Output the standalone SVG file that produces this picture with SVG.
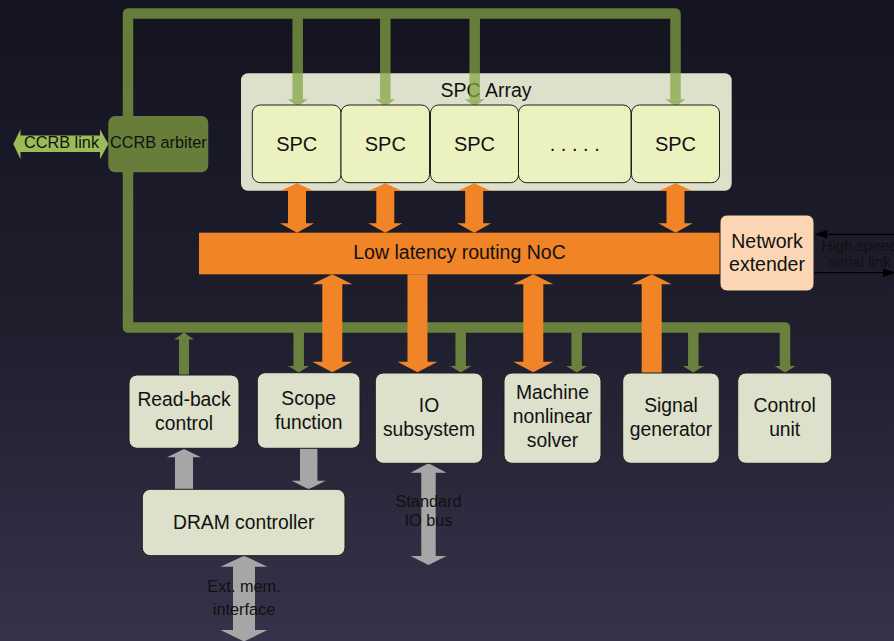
<svg xmlns="http://www.w3.org/2000/svg" width="894" height="641" viewBox="0 0 894 641">
  <defs>
    <linearGradient id="bg" x1="0" y1="0" x2="0" y2="1">
      <stop offset="0" stop-color="#141320"/>
      <stop offset="0.5" stop-color="#1f1e2d"/>
      <stop offset="1" stop-color="#34334a"/>
    </linearGradient>
    <!-- orange arrows: SPC <-> NoC -->
    <path id="oSpc" d="M0,183.3 L17,191 L9,191 L9,223.3 L17,223.3 L0,232.7 L-17,223.3 L-9,223.3 L-9,191 L-17,191Z"/>
    <!-- orange arrows: NoC <-> peripherals -->
    <path id="oBoth" d="M0,274.3 L20,284.3 L10,284.3 L10,361.7 L20,361.7 L0,372.3 L-20,361.7 L-10,361.7 L-10,284.3 L-20,284.3Z"/>
    <path id="oDown" d="M-10,274.3 L10,274.3 L10,361.7 L20,361.7 L0,372.3 L-20,361.7 L-10,361.7Z"/>
    <path id="oUp" d="M0,274.3 L20,284.3 L10,284.3 L10,373 L-10,373 L-10,284.3 L-20,284.3Z"/>
    <!-- green bus heads -->
    <path id="gTopHead" d="M-10,99.3 L10,99.3 L0,106.5Z"/>
    <path id="gBotHead" d="M-10.5,366 L10.5,366 L0,372.5Z"/>
  </defs>
  <style>
    .t { font-family: "Liberation Sans", Arial, sans-serif; fill: #111; text-anchor: middle; }
    .box { fill: #dde0ca; stroke: #1e1e1e; stroke-width: 1; }
    .spc { fill: #ecf2bf; stroke: #1e1e1e; stroke-width: 1; }
    .orange { fill: #f08426; }
    .grey { fill: #a6a6a6; }
    .bus { fill: none; stroke: #85a544; stroke-width: 10.5; stroke-linejoin: round; }
    .gfill { fill: #85a544; }
    .thin { stroke: #000; stroke-width: 1.3; fill: none; }
  </style>

  <rect width="894" height="641" fill="url(#bg)"/>

  <!-- SPC array container -->
  <g id="spc-array">
    <rect x="241" y="73.3" width="490.7" height="117.4" rx="7" fill="#dde0ca"/>
    <text class="t" x="486" y="97.3" font-size="19.5">SPC Array</text>
  </g>

  <!-- connectors -->
  <g id="connectors">
    <!-- CCRB control bus (semi-transparent olive) -->
    <g opacity="0.73">
      <path class="bus" d="M675.5,99.5 V13.5 H128 V327.5 H785 V366.5"/>
      <path class="bus" d="M297.7,13.5 V99.5 M385.3,13.5 V99.5 M474.7,13.5 V99.5"/>
      <path class="bus" d="M298.7,327.5 V366.5 M460.7,327.5 V366.5 M576.7,327.5 V366.5 M693.3,327.5 V366.5"/>
      <use href="#gTopHead" class="gfill" x="297.7"/>
      <use href="#gTopHead" class="gfill" x="385.3"/>
      <use href="#gTopHead" class="gfill" x="474.7"/>
      <use href="#gTopHead" class="gfill" x="675.5"/>
      <use href="#gBotHead" class="gfill" x="298.7"/>
      <use href="#gBotHead" class="gfill" x="460.7"/>
      <use href="#gBotHead" class="gfill" x="576.7"/>
      <use href="#gBotHead" class="gfill" x="693.3"/>
      <use href="#gBotHead" class="gfill" x="785"/>
      <!-- read-back to bus -->
      <path class="gfill" d="M184,332.5 L194,339.5 L189,339.5 L189,375 L179,375 L179,339.5 L174,339.5Z"/>
    </g>

    <!-- CCRB link -->
    <polygon fill="#9bbb59" points="13.3,144 20.5,129.3 20.5,135.5 100,135.5 100,129.3 108.3,144 100,159.3 100,152 20.5,152 20.5,159.3"/>

    <!-- NoC links -->
    <use href="#oSpc" class="orange" x="297"/>
    <use href="#oSpc" class="orange" x="385.3"/>
    <use href="#oSpc" class="orange" x="474.2"/>
    <use href="#oSpc" class="orange" x="675.5"/>
    <use href="#oBoth" class="orange" x="332.3"/>
    <use href="#oDown" class="orange" x="417.5"/>
    <use href="#oBoth" class="orange" x="533.3"/>
    <use href="#oUp" class="orange" x="651.7"/>

    <!-- memory and IO links -->
    <path class="grey" d="M184,449 L201,457.3 L193,457.3 L193,489.5 L175,489.5 L175,457.3 L167,457.3Z"/>
    <path class="grey" d="M300,448.3 L317.4,448.3 L317.4,480.7 L325.7,480.7 L308.7,489.3 L291.7,480.7 L300,480.7Z"/>
    <path class="grey" d="M428.5,463.3 L446.5,472.7 L435.7,472.7 L435.7,556 L446.5,556 L428.5,565 L410.5,556 L421.3,556 L421.3,472.7 L410.5,472.7Z"/>
    <path class="grey" d="M244,555.7 L267.5,566.7 L255,566.7 L255,630 L267.5,630 L244,641.5 L220.5,630 L233,630 L233,566.7 L220.5,566.7Z"/>

    <!-- high speed serial link -->
    <line class="thin" x1="826" y1="234.3" x2="894" y2="234.3"/>
    <polygon points="814.5,234.3 827,230 827,238.6" fill="#000"/>
    <line class="thin" x1="814" y1="272.7" x2="883" y2="272.7"/>
    <polygon points="896,272.7 883,268.4 883,277" fill="#000"/>
  </g>

  <!-- processing cores -->
  <g id="spc1"><rect class="spc" x="252.3" y="105" width="88.7" height="77.7" rx="8"/><text class="t" x="296.7" y="150.7" font-size="20">SPC</text></g>
  <g id="spc2"><rect class="spc" x="341" y="105" width="88.5" height="77.7" rx="8"/><text class="t" x="385.3" y="150.7" font-size="20">SPC</text></g>
  <g id="spc3"><rect class="spc" x="430.5" y="105" width="88" height="77.7" rx="8"/><text class="t" x="474.5" y="150.7" font-size="20">SPC</text></g>
  <g id="spc-more"><rect class="spc" x="518.5" y="105" width="112.5" height="77.7" rx="8"/><text class="t" x="574.7" y="150.7" font-size="20">. . . . .</text></g>
  <g id="spcN"><rect class="spc" x="631.5" y="105" width="88" height="77.7" rx="8"/><text class="t" x="675.5" y="150.7" font-size="20">SPC</text></g>

  <text class="t" x="574" y="54" font-size="13">. . . . .</text>
  <text class="t" x="578" y="213" font-size="13">. . . . .</text>

  <!-- CCRB -->
  <g id="ccrb-arbiter">
    <rect x="108.3" y="116" width="100" height="56.3" rx="7" fill="#677e3a"/>
    <text class="t" x="158.3" y="148.3" font-size="16.3">CCRB arbiter</text>
  </g>
  <text class="t" x="61.5" y="148.3" font-size="16.3">CCRB link</text>

  <!-- network on chip -->
  <g id="noc">
    <rect x="199" y="232.7" width="523" height="41.6" fill="#f08426"/>
    <text class="t" x="459.5" y="259.3" font-size="19.5">Low latency routing NoC</text>
  </g>

  <g id="network-extender">
    <rect x="720" y="215" width="94" height="76" rx="7" fill="#fcd5b4" stroke="#1e1e1e" stroke-width="1"/>
    <text class="t" x="767" y="248.3" font-size="19.5">Network</text>
    <text class="t" x="767" y="271" font-size="19.5">extender</text>
  </g>
  <text class="t" x="859.5" y="251" font-size="15">High speed</text>
  <text class="t" x="859.5" y="266.7" font-size="15">serial link</text>

  <!-- peripherals -->
  <g id="readback">
    <rect class="box" x="129" y="375" width="110" height="73.3" rx="8"/>
    <text class="t" x="184" y="406" font-size="19.3">Read-back</text>
    <text class="t" x="184" y="429.5" font-size="19.3">control</text>
  </g>
  <g id="scope">
    <rect class="box" x="257.3" y="372.7" width="102.7" height="75.6" rx="8"/>
    <text class="t" x="308.7" y="405" font-size="19.3">Scope</text>
    <text class="t" x="308.7" y="428.5" font-size="19.3">function</text>
  </g>
  <g id="io">
    <rect class="box" x="375.3" y="373" width="107.4" height="90.3" rx="8"/>
    <text class="t" x="429" y="411.7" font-size="19.3">IO</text>
    <text class="t" x="429" y="435.7" font-size="19.3">subsystem</text>
  </g>
  <g id="solver">
    <rect class="box" x="504" y="373" width="97" height="90.3" rx="8"/>
    <text class="t" x="552.5" y="399.3" font-size="19.3">Machine</text>
    <text class="t" x="552.5" y="423.3" font-size="19.3">nonlinear</text>
    <text class="t" x="552.5" y="446.7" font-size="19.3">solver</text>
  </g>
  <g id="signal">
    <rect class="box" x="622.7" y="373" width="96.6" height="90.3" rx="8"/>
    <text class="t" x="671" y="412.3" font-size="19.3">Signal</text>
    <text class="t" x="671" y="435.7" font-size="19.3">generator</text>
  </g>
  <g id="control">
    <rect class="box" x="737.7" y="373" width="94" height="90.3" rx="8"/>
    <text class="t" x="784.7" y="412.3" font-size="19.3">Control</text>
    <text class="t" x="784.7" y="435.7" font-size="19.3">unit</text>
  </g>
  <g id="dram">
    <rect class="box" x="142.3" y="489.3" width="202.7" height="66.4" rx="8"/>
    <text class="t" x="243.7" y="529" font-size="19.3">DRAM controller</text>
  </g>

  <text class="t" x="428.5" y="507.3" font-size="16.3">Standard</text>
  <text class="t" x="428.5" y="526.3" font-size="16.3">IO bus</text>
  <text class="t" x="244" y="591.7" font-size="16.3">Ext. mem.</text>
  <text class="t" x="244" y="615" font-size="16.3">interface</text>
</svg>
